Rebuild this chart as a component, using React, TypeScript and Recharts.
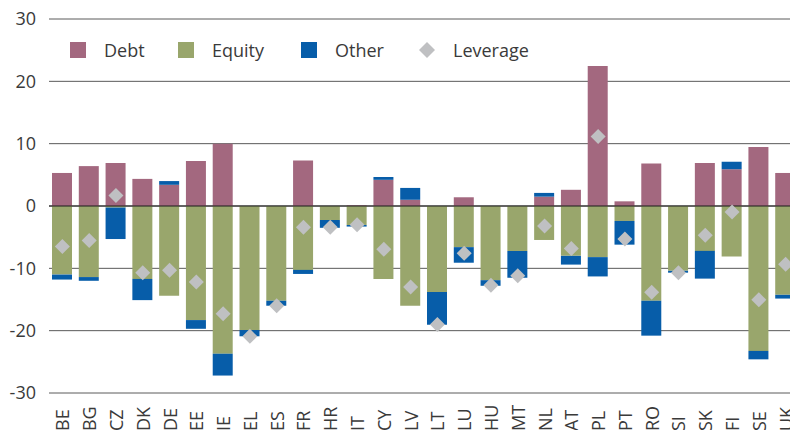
import React from "react";
import {
  ComposedChart,
  Bar,
  Line,
  XAxis,
  YAxis,
  CartesianGrid,
  Legend,
  ReferenceLine,
} from "recharts";

const countries = [
  "BE", "BG", "CZ", "DK", "DE", "EE", "IE", "EL", "ES", "FR", "HR", "IT", "CY", "LV",
  "LT", "LU", "HU", "MT", "NL", "AT", "PL", "PT", "RO", "SI", "SK", "FI", "SE", "UK",
];
const debt = [
  5.3, 6.4, 6.9, 4.35, 3.4, 7.2, 10.0, 0, 0, 7.3, 0, 0.1, 4.2, 1.0,
  0, 1.4, 0, 0, 1.5, 2.6, 22.45, 0.75, 6.8, 0, 6.9, 5.9, 9.45, 5.3,
];
const equity = [
  -11.0, -11.4, -0.25, -11.7, -14.4, -18.3, -23.7, -19.9, -15.2, -10.25, -2.25, -3.05, -11.7, -16.0,
  -13.8, -6.6, -11.9, -7.2, -5.45, -8.0, -8.2, -2.4, -15.2, -10.4, -7.2, -8.1, -23.25, -14.25,
];
const other = [
  -0.8, -0.6, -5.05, -3.4, 0.6, -1.4, -3.5, -1.0, -0.8, -0.65, -1.25, -0.25, 0.45, 1.9,
  -5.25, -2.5, -0.9, -4.3, 0.6, -1.4, -3.1, -3.8, -5.6, -0.3, -4.45, 1.2, -1.35, -0.6,
];
const leverage = [
  -6.5, -5.55, 1.7, -10.7, -10.3, -12.2, -17.3, -20.9, -16.0, -3.4, -3.4, -3.0, -6.95, -13.0,
  -19.0, -7.6, -12.7, -11.2, -3.2, -6.8, 11.15, -5.3, -13.85, -10.7, -4.7, -0.95, -15.05, -9.35,
];
const yTicks = [-30, -20, -10, 0, 10, 20, 30];

const COLORS = {
  debt: "#a3687f",
  equity: "#99a66c",
  other: "#075da9",
  leverage: "#bfc0c2",
};

const data = countries.map((c, i) => ({
  country: c,
  debt: debt[i],
  equity: equity[i],
  other: other[i],
  leverage: leverage[i],
}));

const legendItems = [
  { label: "Debt", color: COLORS.debt, kind: "square", width: 108 },
  { label: "Equity", color: COLORS.equity, kind: "square", width: 123 },
  { label: "Other", color: COLORS.other, kind: "square", width: 118 },
  { label: "Leverage", color: COLORS.leverage, kind: "diamond", width: 130 },
];

const FONT = "'Open Sans', 'Noto Sans', sans-serif";
const TEXT = "#3a3a3a";

const renderLegend = () => (
  <div style={{ display: "flex", alignItems: "center", whiteSpace: "nowrap", fontFamily: FONT }}>
    {legendItems.map((it) => (
      <div key={it.label} style={{ display: "flex", alignItems: "center", width: it.width }}>
        {it.kind === "square" ? (
          <div style={{ width: 16, height: 16, background: it.color }} />
        ) : (
          <svg width={16} height={16}>
            <polygon points="8,0 16,8 8,16 0,8" fill={it.color} />
          </svg>
        )}
        <span style={{ marginLeft: 18, fontSize: 18, lineHeight: "16px", color: TEXT }}>{it.label}</span>
      </div>
    ))}
  </div>
);

const Diamond = (props: any) => {
  const { cx, cy, index } = props;
  if (cx == null || cy == null) return <g key={index} />;
  const r = 7.5;
  return (
    <polygon
      key={index}
      points={`${cx},${cy - r} ${cx + r},${cy} ${cx},${cy + r} ${cx - r},${cy}`}
      fill={COLORS.leverage}
    />
  );
};

const XTick = (props: any) => {
  const { x, y, payload } = props;
  const ty = y + 38;
  return (
    <text
      x={x}
      y={ty}
      transform={`rotate(-90, ${x}, ${ty})`}
      textAnchor="start"
      dominantBaseline="central"
      fontSize={18}
      fontFamily={FONT}
      fill={TEXT}
    >
      {payload.value}
    </text>
  );
};

export default function App() {
  return (
    <div
      style={{
        position: "fixed",
        left: 0,
        top: 0,
        width: 790,
        height: 430,
        overflow: "hidden",
        background: "#fff",
      }}
    >
      <ComposedChart
        width={800}
        height={430}
        data={data}
        stackOffset="sign"
        margin={{ top: 19, right: 1, bottom: 0, left: 0 }}
      >
        <CartesianGrid vertical={false} stroke="#5a5a5a" strokeWidth={1} />
        <XAxis
          dataKey="country"
          height={37}
          axisLine={false}
          tickLine={false}
          tickSize={0}
          tickMargin={0}
          interval={0}
          tick={<XTick />}
        />
        <YAxis
          width={49}
          domain={[-30, 30]}
          ticks={yTicks}
          axisLine={false}
          tickLine={false}
          tickSize={0}
          tickMargin={13}
          tick={{ fontSize: 18, fontFamily: FONT, fill: TEXT }}
        />
        <Legend
          layout="vertical"
          align="center"
          verticalAlign="middle"
          content={renderLegend}
          wrapperStyle={{ top: 42, left: 70, width: 600, height: 16 }}
        />
        <Bar dataKey="debt" stackId="s" fill={COLORS.debt} barSize={20} isAnimationActive={false} />
        <Bar dataKey="equity" stackId="s" fill={COLORS.equity} barSize={20} isAnimationActive={false} />
        <Bar dataKey="other" stackId="s" fill={COLORS.other} barSize={20} isAnimationActive={false} />
        <ReferenceLine y={0} stroke="#1a1a1a" strokeWidth={1} />
        <Line
          dataKey="leverage"
          stroke="none"
          strokeWidth={0}
          dot={<Diamond />}
          activeDot={false}
          legendType="none"
          isAnimationActive={false}
        />
      </ComposedChart>
    </div>
  );
}
